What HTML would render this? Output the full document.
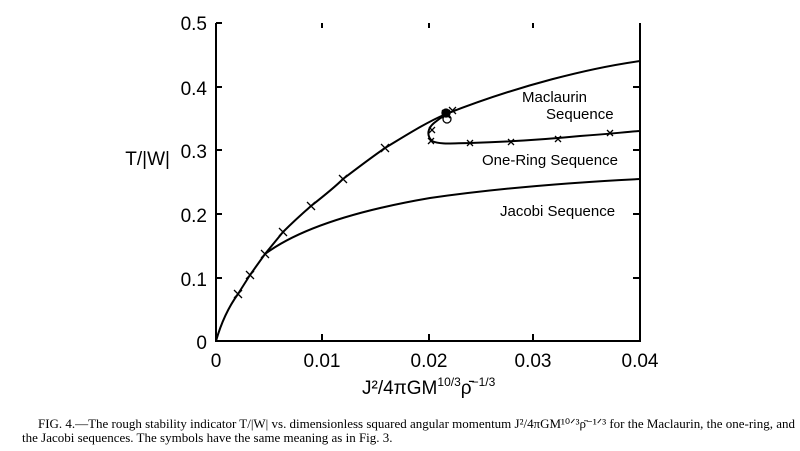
<!DOCTYPE html>
<html><head><style>body{margin:0;background:#fff;}svg{display:block}</style></head><body>
<svg width="800" height="451" xmlns="http://www.w3.org/2000/svg" font-family="Liberation Sans, sans-serif">
<g stroke="#000" fill="none" stroke-width="2">
<polyline points="216,23 216,341 640,341 640,23"/>
<line x1="322" y1="341" x2="322" y2="334"/><line x1="429" y1="341" x2="429" y2="334"/><line x1="533" y1="341" x2="533" y2="334"/>
<line x1="216" y1="278" x2="222" y2="278"/><line x1="216" y1="214" x2="222" y2="214"/><line x1="216" y1="150" x2="222" y2="150"/><line x1="216" y1="87" x2="222" y2="87"/><line x1="216" y1="23" x2="222" y2="23"/>
<line x1="640" y1="278" x2="633" y2="278"/><line x1="640" y1="214" x2="633" y2="214"/><line x1="640" y1="150" x2="633" y2="150"/><line x1="640" y1="87" x2="633" y2="87"/>
<line x1="322" y1="23" x2="322" y2="28"/><line x1="429" y1="23" x2="429" y2="28"/><line x1="533" y1="23" x2="533" y2="28"/>
<path d="M216,341 C222,320 230,305 238,294 L250,275 L265,254 L283,232 C295,220 303,213 311,206 C325,195 335,187 343,179 C360,166 372,157 385,148 C405,136 425,123 446,114 C520,85 590,68 640,61"/>
<path d="M265,254 C300,228 360,210 430,198 C500,188 580,182 640,179"/>
<path d="M456,110 C448,113 440,118 434,123 C428,128 426,135 432,141 C440,145 455,143 470,143 C500,142 540,140 580,136 C610,134 625,132 640,131"/>
</g>
<g stroke="#000" stroke-width="1.3" fill="none">
<path d="M234,290l8,8M242,290l-8,8M246,271l8,8M254,271l-8,8M261,250l8,8M269,250l-8,8M279,228l8,8M287,228l-8,8M307,202l8,8M315,202l-8,8M339,175l8,8M347,175l-8,8M381,144l8,8M389,144l-8,8M442,110l8,8M450,110l-8,8M449,107l7,7M456,107l-7,7"/>
<path d="M467,140l6,6M473,140l-6,6M508,139l6,6M514,139l-6,6M555,136l6,6M561,136l-6,6M607,130l6,6M613,130l-6,6M429,127l6,6M435,127l-6,6M428,138l6,6M434,138l-6,6"/>
<circle cx="447" cy="119" r="4"/><circle cx="446" cy="113" r="4" fill="#000"/>
</g>
<g font-size="19" fill="#000">
<text x="207" y="30" text-anchor="end">0.5</text>
<text x="207" y="95" text-anchor="end">0.4</text>
<text x="207" y="158" text-anchor="end">0.3</text>
<text x="207" y="222" text-anchor="end">0.2</text>
<text x="207" y="286" text-anchor="end">0.1</text>
<text x="207" y="349" text-anchor="end">0</text>
<text x="216" y="367" text-anchor="middle">0</text>
<text x="322" y="367" text-anchor="middle">0.01</text>
<text x="429" y="367" text-anchor="middle">0.02</text>
<text x="533" y="367" text-anchor="middle">0.03</text>
<text x="640" y="367" text-anchor="middle">0.04</text>
<text x="170" y="165" text-anchor="end">T/|W|</text>
<text x="362" y="394">J²/4πGM<tspan font-size="12" dy="-8">10/3</tspan><tspan dy="8">ρ̄</tspan><tspan font-size="12" dy="-8">−1/3</tspan></text>
</g>
<g font-size="15" fill="#000">
<text x="522" y="102">Maclaurin</text>
<text x="546" y="119">Sequence</text>
<text x="482" y="165">One-Ring Sequence</text>
<text x="500" y="216">Jacobi Sequence</text>
</g>
<g font-family="Liberation Serif, serif" font-size="13" fill="#000">
<text x="38" y="428" textLength="757" lengthAdjust="spacingAndGlyphs">FIG. 4.—The rough stability indicator T/|W| vs. dimensionless squared angular momentum J²/4πGM¹⁰ᐟ³ρ̄⁻¹ᐟ³ for the Maclaurin, the one-ring, and</text>
<text x="22" y="442">the Jacobi sequences. The symbols have the same meaning as in Fig. 3.</text>
</g>
</svg>
</body></html>
